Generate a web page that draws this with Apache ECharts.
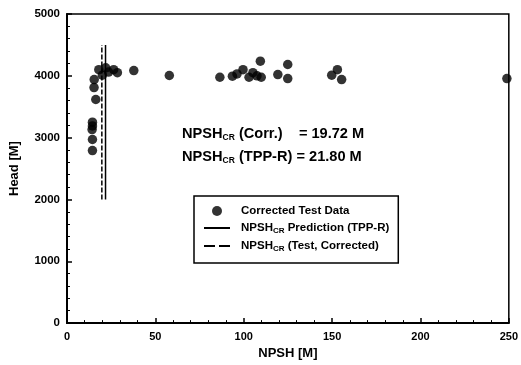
<!DOCTYPE html>
<html>
<head>
<meta charset="utf-8">
<script src="https://cdn.jsdelivr.net/npm/echarts@6/dist/echarts.min.js"></script>
<style>html,body{margin:0;padding:0;background:#fff;}#c{width:521px;height:365px;}</style>
</head>
<body>
<div id="c"></div>
<script>
// Data
const testNPSH = [14.4, 14.4, 14.2, 14.4, 14.4, 16.3, 15.3, 15.4, 18.0, 21.9, 26.4, 28.5, 20.0, 23.5, 37.8, 57.9, 86.5, 93.6, 96.2, 99.6, 103.0, 105.2, 107.5, 109.4, 109.9, 119.3, 124.9, 124.9, 149.8, 153.0, 155.4, 248.9];
const testHead = [2790, 2970, 3130, 3250, 3190, 3617, 3810, 3940, 4100, 4130, 4100, 4050, 4010, 4060, 4085, 4005, 3977, 3995, 4030, 4100, 3977, 4050, 4000, 4237, 3977, 4020, 4183, 3956, 4010, 4100, 3940, 3956];
const predNPSH = [21.80, 21.80];
const predHead = [2000, 4500];
const corrNPSH = [19.72, 19.72];
const corrHead = [2000, 4500];
const xTicks = {min: 0, max: 250, interval: 50};
const yTicks = {min: 0, max: 5000, interval: 1000};

const zip = (a, b) => a.map((v, i) => [v, b[i]]);
const FONT = '"Liberation Sans", Arial, sans-serif';
const NARROW = '"Liberation Sans Narrow", "Arial Narrow", "Liberation Sans", sans-serif';
const chart = echarts.init(document.getElementById('c'), null, {renderer: 'canvas'});
const rich = {
  g: {width: 6},
  n: {fontFamily: FONT, fontWeight: 'bold', fontSize: 11.5, color: '#000'},
  s: {fontFamily: FONT, fontWeight: 'bold', fontSize: 8, color: '#000', padding: [6, 0, 0, 0]}
};
const richBig = {
  n: {fontFamily: FONT, fontWeight: 'bold', fontSize: 14.6, color: '#000'},
  s: {fontFamily: FONT, fontWeight: 'bold', fontSize: 8.5, color: '#000', padding: [8, 0, 0, 0]}
};
chart.setOption({
  animation: false,
  backgroundColor: '#fff',
  grid: {left: 66, right: 10, top: 14, bottom: 41, show: true, borderColor: '#000', borderWidth: 1.5},
  xAxis: {
    type: 'value', min: xTicks.min, max: xTicks.max, interval: xTicks.interval,
    name: 'NPSH [M]', nameLocation: 'middle', nameGap: 22,
    nameTextStyle: {fontFamily: NARROW, fontWeight: 'bold', fontSize: 13, color: '#000'},
    axisLine: {show: true, onZero: false, lineStyle: {color: '#000', width: 2}},
    axisTick: {show: true, inside: true, length: 5, lineStyle: {color: '#000', width: 1.5}},
    minorTick: {show: true, splitNumber: 5, length: 3, lineStyle: {color: '#000', width: 1}},
    splitLine: {show: false},
    axisLabel: {fontFamily: FONT, fontWeight: 'bold', fontSize: 11, color: '#000', margin: 8,
      formatter: v => String(v)}
  },
  yAxis: {
    type: 'value', min: yTicks.min, max: yTicks.max, interval: yTicks.interval,
    name: 'Head [M]', nameLocation: 'middle', nameGap: 46,
    nameTextStyle: {fontFamily: NARROW, fontWeight: 'bold', fontSize: 13, color: '#000'},
    axisLine: {show: true, onZero: false, lineStyle: {color: '#000', width: 2}},
    axisTick: {show: true, inside: true, length: 5, lineStyle: {color: '#000', width: 1.5}},
    minorTick: {show: true, splitNumber: 5, length: 3, lineStyle: {color: '#000', width: 1}},
    splitLine: {show: false},
    axisLabel: {fontFamily: FONT, fontWeight: 'bold', fontSize: 11.5, color: '#000', margin: 7,
      formatter: v => String(v)}
  },
  legend: {
    orient: 'vertical', left: 194, top: 196,
    padding: [9, 9, 10, 9], itemGap: 5, itemWidth: 26, itemHeight: 10,
    borderColor: '#000', borderWidth: 1.5, backgroundColor: '#fff',
    data: [
      {name: 'Corrected Test Data'},
      {name: 'pred', itemStyle: {opacity: 0}},
      {name: 'corr', itemStyle: {opacity: 0}, lineStyle: {type: [11, 4]}}
    ],
    formatter: function (name) {
      if (name === 'pred') return '{g|}{n|NPSH}{s|CR}{n| Prediction (TPP-R)}';
      if (name === 'corr') return '{g|}{n|NPSH}{s|CR}{n| (Test, Corrected)}';
      return '{g|}{n|' + name + '}';
    },
    textStyle: {fontFamily: FONT, fontWeight: 'bold', fontSize: 11.5, color: '#000', rich: rich}
  },
  series: [
    {name: 'Corrected Test Data', type: 'scatter', data: zip(testNPSH, testHead), symbol: 'circle', symbolSize: 9.5,
     itemStyle: {color: '#000'}, z: 3},
    {name: 'pred', type: 'line', data: zip(predNPSH, predHead), symbol: 'none',
     lineStyle: {color: '#000', width: 1.5, type: 'solid'}, itemStyle: {color: '#000'}},
    {name: 'corr', type: 'line', data: zip(corrNPSH, corrHead), symbol: 'none',
     lineStyle: {color: '#000', width: 1.5, type: [5, 2]}, itemStyle: {color: '#000'}}
  ],
  graphic: [
    {type: 'text', left: 182, top: 126, style: {text: '{n|NPSH}{s|CR}{n| (Corr.)    = 19.72 M}', rich: richBig}},
    {type: 'text', left: 182, top: 149, style: {text: '{n|NPSH}{s|CR}{n| (TPP-R) = 21.80 M}', rich: richBig}}
  ]
});
</script>
</body>
</html>
